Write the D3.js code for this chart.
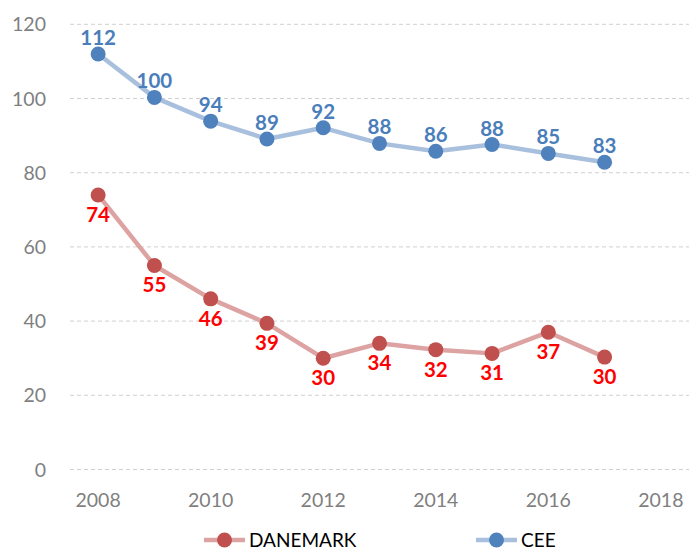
<!DOCTYPE html>
<html>
<head>
<script src="https://d3js.org/d3.v7.min.js"></script>
<style>
  body { margin: 0; background: #fff; }
  text { font-family: Lato, "Open Sans", sans-serif; }
</style>
</head>
<body>
<svg id="chart" width="689" height="551"></svg>
<script>
// data
var years = [2008, 2009, 2010, 2011, 2012, 2013, 2014, 2015, 2016, 2017];
var danemark = [74, 55, 46, 39.4, 30, 34, 32.3, 31.3, 37, 30.3];
var cee = [112, 100.3, 93.9, 89.1, 92.1, 87.9, 85.8, 87.6, 85.2, 82.8];
var yTicks = [0, 20, 40, 60, 80, 100, 120];
var xTicks = [2008, 2010, 2012, 2014, 2016, 2018];

var svg = d3.select("#chart");

var x = d3.scaleLinear().domain([2007.5, 2018.5]).range([70, 689]);
var y = d3.scaleLinear().domain([0, 120]).range([469.5, 24.3]);

// gridlines
svg.append("g").selectAll("line").data(yTicks).join("line")
  .attr("x1", 70).attr("x2", 689)
  .attr("y1", d => y(d)).attr("y2", d => y(d))
  .attr("stroke", "#d0d0d0").attr("stroke-width", 1)
  .attr("stroke-dasharray", "4,3");

// y tick labels
svg.append("g").selectAll("text").data(yTicks).join("text")
  .attr("x", 46).attr("y", d => y(d) + 7)
  .attr("text-anchor", "end")
  .attr("font-size", 19.5).attr("fill", "#7f7f7f")
  .text(d => d);

// x tick labels
svg.append("g").selectAll("text").data(xTicks).join("text")
  .attr("x", d => x(d)).attr("y", 507)
  .attr("text-anchor", "middle")
  .attr("font-size", 19.5).attr("fill", "#7f7f7f")
  .text(d => d);

var series = [
  { name: "DANEMARK", values: danemark, line: "#dda3a2", dot: "#c0504d", label: "#ff0000", below: true },
  { name: "CEE", values: cee, line: "#a8c0de", dot: "#4f81bd", label: "#4a7ebb", below: false }
];

var line = d3.line().x((d, i) => x(years[i])).y(d => y(d));

series.forEach(function (s) {
  var g = svg.append("g");
  g.append("path").datum(s.values)
    .attr("d", line)
    .attr("fill", "none")
    .attr("stroke", s.line)
    .attr("stroke-width", 4.5)
    .attr("stroke-linejoin", "round");
  g.selectAll("circle").data(s.values).join("circle")
    .attr("cx", (d, i) => x(years[i]))
    .attr("cy", d => y(d))
    .attr("r", 7.5)
    .attr("fill", s.dot);
  g.selectAll("text").data(s.values).join("text")
    .attr("x", (d, i) => x(years[i]))
    .attr("y", d => s.below ? y(d) + 27 : y(d) - 9)
    .attr("text-anchor", "middle")
    .attr("font-size", 20.5).attr("font-weight", "bold")
    .attr("fill", s.label)
    .text(d => Math.round(d));
});

// legend
var legendX = [204, 476];
series.forEach(function (s, i) {
  var g = svg.append("g").attr("transform", "translate(" + legendX[i] + ",540)");
  g.append("line").attr("x1", 0).attr("x2", 41).attr("y1", 0).attr("y2", 0)
    .attr("stroke", s.line).attr("stroke-width", 4.5);
  g.append("circle").attr("cx", 20.5).attr("cy", 0).attr("r", 7.5).attr("fill", s.dot);
  g.append("text").attr("x", 45).attr("y", 7)
    .attr("font-size", 19).attr("fill", "#000")
    .text(s.name);
});
</script>
</body>
</html>
